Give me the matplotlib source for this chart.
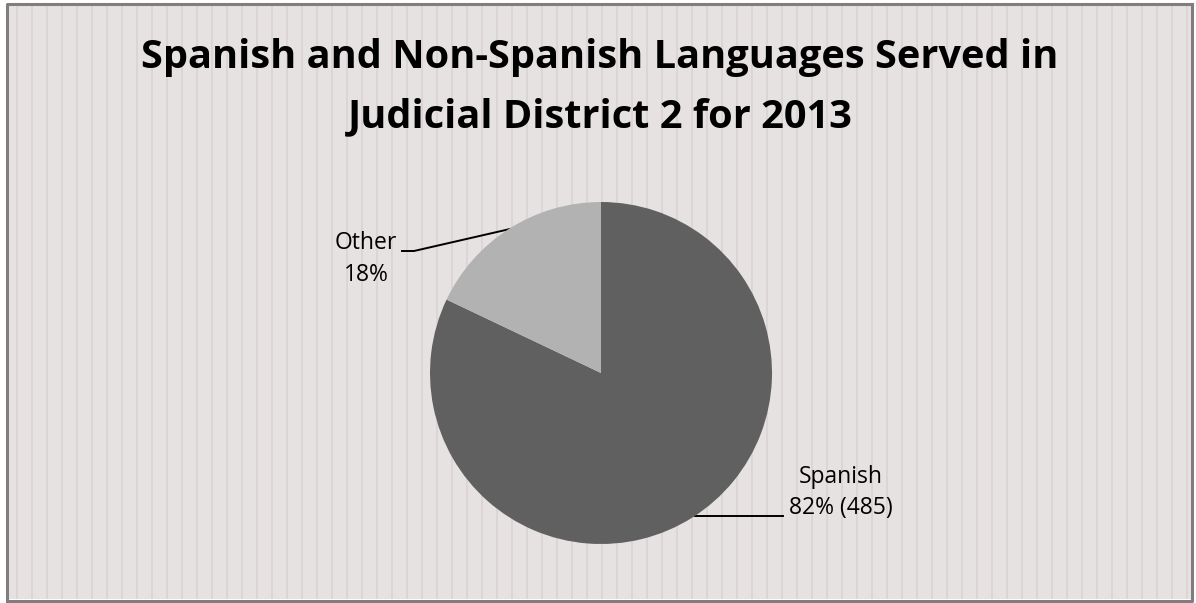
import numpy as np
import matplotlib
matplotlib.use("Agg")
import matplotlib.pyplot as plt
from matplotlib.patches import Rectangle

# data
labels = ["Spanish", "Other"]
counts = [485, 106]
label_line1 = ["Spanish", "Other"]
label_line2 = ["82% (485)", "18%"]
colors = ["#606060", "#B2B2B2"]
title_lines = ["Spanish and Non-Spanish Languages Served in",
               "Judicial District 2 for 2013"]

W, H = 1196, 603
fig = plt.figure(figsize=(W / 100, H / 100), dpi=100)
fig.patch.set_facecolor("white")

# background panel with thin vertical stripes
bg = fig.add_axes([0, 0, 1, 1])
bg.set_xlim(0, W)
bg.set_ylim(H, 0)
bg.axis("off")
bg.add_patch(Rectangle((7, 4), W - 12, H - 8, facecolor="#E7E2E2", edgecolor="none"))
for x in np.arange(17, W - 4, 15.0):
    bg.plot([x, x], [5, H - 4], color="#DBD5D5", lw=1.4, solid_capstyle="butt")
bg.plot([7, 7, W - 4], [H - 2, 3.5, 3.5], color="#827c7c", lw=2.2)
bg.plot([7, W - 4, W - 4], [H - 2, H - 2, 3.5], color="#827c7c", lw=2.2)

for y, line in zip([68, 127], title_lines):
    bg.text(600, y, line, ha="center", va="baseline", fontsize=28.6,
            fontweight="bold", family="Open Sans", color="black")

# pie
ax = fig.add_axes([(601 - 171) / W, 1 - (373 + 171) / H, 342 / W, 342 / H])
ax.pie(counts, colors=colors, startangle=90, counterclock=False,
       wedgeprops=dict(linewidth=0))
ax.set_aspect("equal")
ax.set_xlim(-1, 1)
ax.set_ylim(-1, 1)

# labels with leader lines
txt = dict(ha="center", va="center", fontsize=16.5, family="Open Sans", color="black")
bg.text(366, 243, label_line1[1], **txt)
bg.text(366, 275, label_line2[1], **txt)
bg.plot([402, 414, 510], [251, 251, 229], color="black", lw=1.4)
bg.text(841, 477, label_line1[0], **txt)
bg.text(841, 508, label_line2[0], **txt)
bg.plot([695, 783], [516, 516], color="black", lw=1.4)

fig.savefig("out.png", dpi=100)
